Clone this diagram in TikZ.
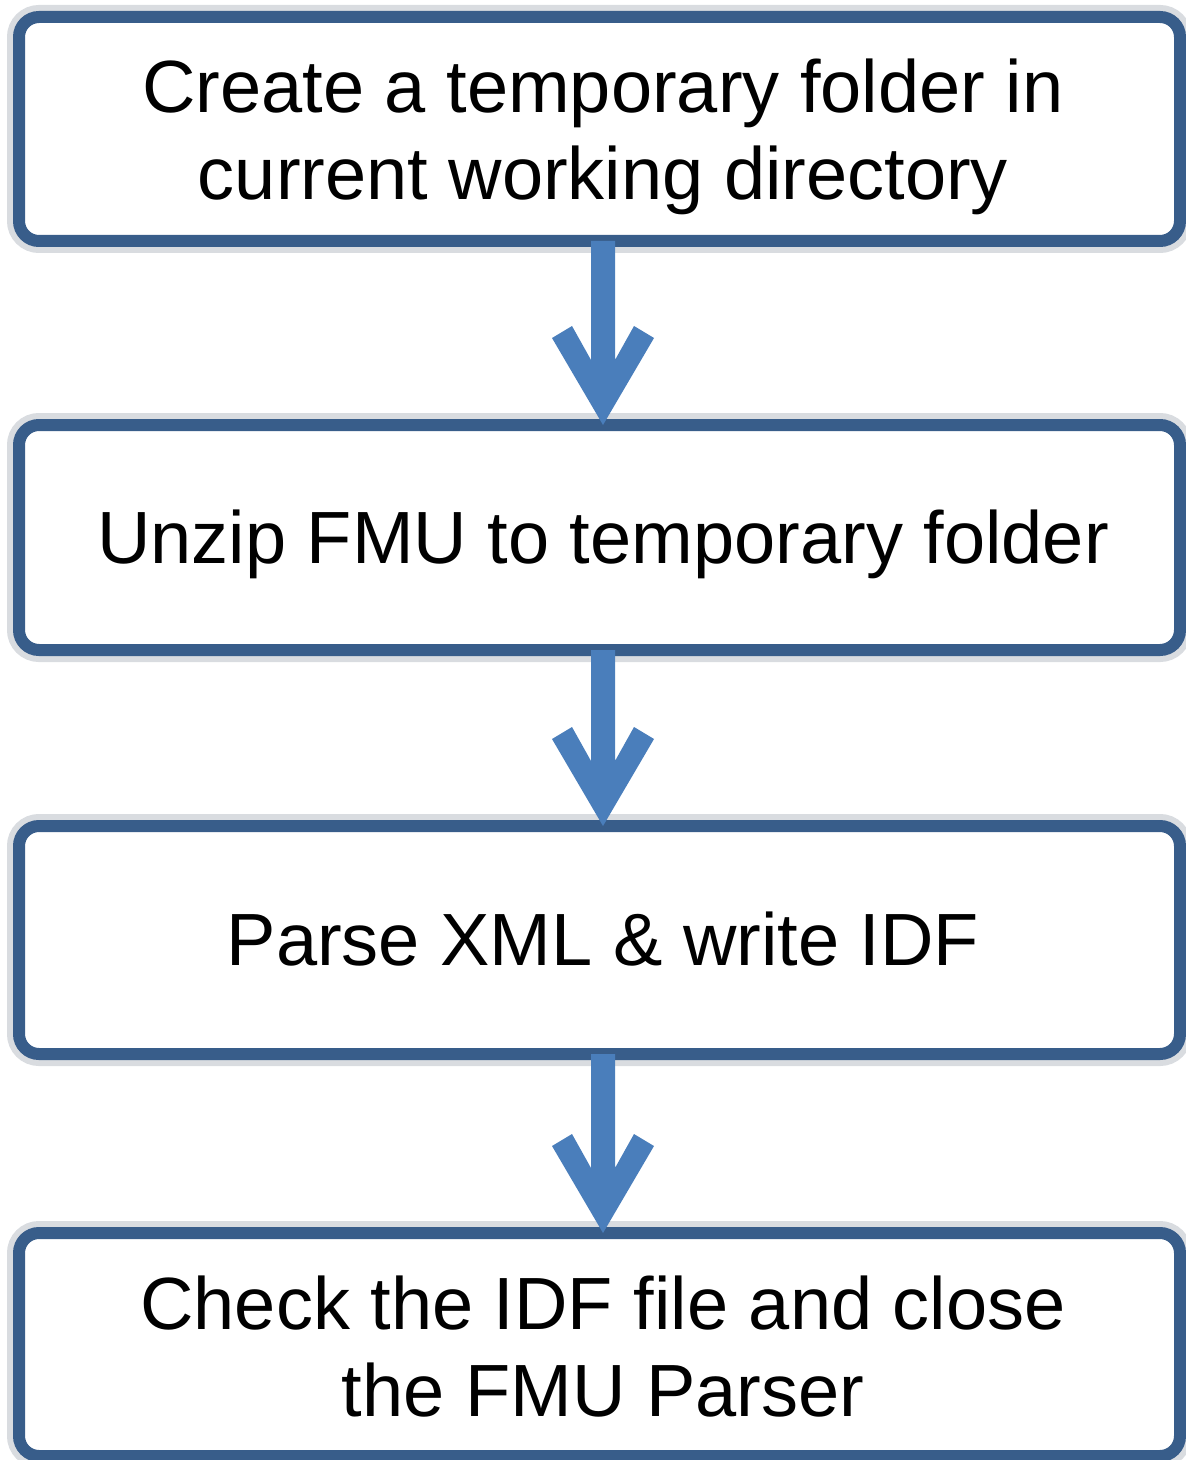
\documentclass[tikz,border=0pt]{standalone}
\usepackage{fontspec}
\setmainfont{Liberation Sans}
\usetikzlibrary{calc}
\definecolor{boxline}{RGB}{56,93,138}
\definecolor{halo}{RGB}{217,220,224}
\definecolor{arrowblue}{RGB}{74,126,187}
\tikzset{
  flowbox/.style={draw=boxline, line width=6pt, rounded corners=10pt,
    preaction={draw=halo, line width=12pt},
    fill=white, inner sep=0pt, outer sep=0pt, minimum width=580.5pt},
  flowtext/.style={inner sep=0pt, align=center, xshift=1.75pt,
    font=\fontsize{37}{43.5}\selectfont},
}
\newcommand\flowarrow[2]{%
  \path let \p1=($(#1.south)+(3.5,0)$), \p2=($(#2.north)+(3.5,0)$) in
    [fill=arrowblue]
    (\x1-6pt,\y1) -- (\x2-6pt,\y2+32.5pt) -- (\x2-15.5pt,\y2+49.5pt)
    -- (\x2-25.5pt,\y2+43.5pt) -- (\x2,\y2) -- (\x2+25.5pt,\y2+43.5pt)
    -- (\x2+15.5pt,\y2+49.5pt) -- (\x2+6pt,\y2+32.5pt) -- (\x1+6pt,\y1) -- cycle;%
}
\begin{document}
\begin{tikzpicture}[x=0.5pt,y=-0.5pt]
\useasboundingbox (0,0) rectangle (1186,1460);
\node[flowbox, minimum height=112pt] (b1) at (599.5,129) {};
\node[flowtext, yshift=-4pt] (t1) at (b1)
  {Create a temporary folder in\\current working directory};
\node[flowbox, minimum height=112.5pt] (b2) at (599.5,537.5) {};
\node[flowtext, yshift=-3.5pt] (t2) at (b2) {Unzip FMU to temporary folder};
\node[flowbox, minimum height=114pt] (b3) at (599.5,940) {};
\node[flowtext, yshift=0.5pt] (t3) at (b3) {Parse XML \& write IDF};
\node[flowbox, minimum height=111.5pt] (b4) at (599.5,1344.5) {};
\node[flowtext, yshift=-1pt] (t4) at (b4)
  {Check the IDF file and close\\the FMU Parser};
\flowarrow{b1}{b2}
\flowarrow{b2}{b3}
\flowarrow{b3}{b4}
\end{tikzpicture}
\end{document}
